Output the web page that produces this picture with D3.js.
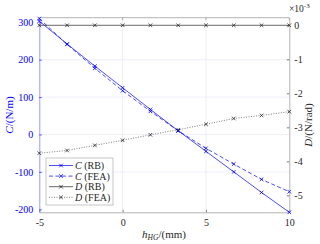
<!DOCTYPE html>
<html>
<head>
<meta charset="utf-8">
<script src="https://cdn.jsdelivr.net/npm/d3@7"></script>
<style>
  body { margin: 0; background: #fff; }
  svg text { font-family: "Liberation Serif", "DejaVu Serif", serif; }
</style>
</head>
<body>
<svg id="chart" width="320" height="244"></svg>
<script>
// data
var hValues = [-5, -3.333, -1.667, 0, 1.667, 3.333, 5, 6.667, 8.333, 10];
var cRB  = [303, 242, 183, 125, 67, 10, -45, -100, -155, -208];
var cFEA = [310, 241, 177, 117, 62, 10, -37, -79, -120, -153];
var dRB  = [0, 0, 0, 0, 0, 0, 0, 0, 0, 0];           // x 1e-3
var dFEA = [-3.76, -3.68, -3.53, -3.38, -3.22, -3.07, -2.91, -2.74, -2.65, -2.54];
var xTicks = [-5, 0, 5, 10];
var cTicks = [300, 200, 100, 0, -100, -200];
var dTicks = [0, -1, -2, -3, -4, -5];

var pLeft = 39.3, pRight = 289.3, pTop = 17.7, pBottom = 212.3;
var blue = "#0000ff", dark = "#262626";
var serif = "Liberation Serif, DejaVu Serif, serif";
var plain = d => String(d);   // hyphen minus like the original

var svg = d3.select("#chart");

var x = d3.scaleLinear().domain([-5, 10]).range([pLeft, pRight]);
var yC = d3.scaleLinear().domain([-208, 312.3]).range([pBottom, pTop]);
var yD = d3.scaleLinear().domain([-5.498, 0.223]).range([pBottom, pTop]);

// grid
svg.append("g").selectAll("line").data(xTicks.slice(1, 3)).enter().append("line")
  .attr("x1", d => x(d)).attr("x2", d => x(d))
  .attr("y1", pTop).attr("y2", pBottom)
  .attr("stroke", "#e4e4e4").attr("stroke-width", 0.6);
svg.append("g").selectAll("line").data(cTicks.slice(1, 5)).enter().append("line")
  .attr("x1", pLeft).attr("x2", pRight)
  .attr("y1", d => yC(d)).attr("y2", d => yC(d))
  .attr("stroke", "#e2e2fa").attr("stroke-width", 0.6);

// frame top
svg.append("line").attr("x1", pLeft).attr("x2", pRight).attr("y1", pTop).attr("y2", pTop)
  .attr("stroke", "#a0a0a0").attr("stroke-width", 0.8);

// x axis
var xAxis = svg.append("g")
  .attr("transform", "translate(0," + pBottom + ")")
  .call(d3.axisBottom(x).tickValues(xTicks).tickSizeInner(-2.5).tickSizeOuter(0).tickPadding(7)
    .tickFormat(plain));
xAxis.attr("font-family", serif);
xAxis.select(".domain").attr("stroke", "#a0a0a0").attr("stroke-width", 0.8);
xAxis.selectAll(".tick line").attr("stroke", "#808080");
xAxis.selectAll("text").attr("font-size", 10).attr("fill", dark);

// top ticks
svg.append("g").selectAll("line").data(xTicks).enter().append("line")
  .attr("x1", d => x(d)).attr("x2", d => x(d))
  .attr("y1", pTop).attr("y2", pTop + 2.5).attr("stroke", "#808080").attr("stroke-width", 0.6);

// left axis (C)
var cAxis = svg.append("g")
  .attr("transform", "translate(" + pLeft + ",0)")
  .call(d3.axisLeft(yC).tickValues(cTicks).tickSizeInner(-2.5).tickSizeOuter(0).tickPadding(6)
    .tickFormat(plain));
cAxis.attr("font-family", serif);
cAxis.select(".domain").attr("stroke", "#8080ff").attr("stroke-width", 0.8);
cAxis.selectAll(".tick line").attr("stroke", blue).attr("stroke-width", 0.6);
cAxis.selectAll("text").attr("font-size", 10).attr("fill", blue);

// right axis (D)
var dAxis = svg.append("g")
  .attr("transform", "translate(" + pRight + ",0)")
  .call(d3.axisRight(yD).tickValues(dTicks).tickSizeInner(-2.5).tickSizeOuter(0).tickPadding(5)
    .tickFormat(plain));
dAxis.attr("font-family", serif);
dAxis.select(".domain").attr("stroke", "#a0a0a0").attr("stroke-width", 0.8);
dAxis.selectAll(".tick line").attr("stroke", dark).attr("stroke-width", 0.6);
dAxis.selectAll("text").attr("font-size", 10).attr("fill", dark);

// exponent label
var ex = svg.append("text").attr("x", 289).attr("y", 12).attr("font-size", 9.5).attr("fill", dark);
ex.append("tspan").text("\u00d710");
ex.append("tspan").attr("dy", -4).attr("font-size", 7).text("-3");

// series
var series = [
  { name: "C", tag: "(RB)",  vals: cRB,  y: yC, color: blue, dash: null,  width: 0.7 },
  { name: "C", tag: "(FEA)", vals: cFEA, y: yC, color: blue, dash: "4,2.5", width: 0.7 },
  { name: "D", tag: "(RB)",  vals: dRB,  y: yD, color: dark, dash: null,  width: 0.7 },
  { name: "D", tag: "(FEA)", vals: dFEA, y: yD, color: dark, dash: "1,1.5", width: 0.6 }
];

function cross(g, cx, cy, color) {
  var s = 1.8;
  g.append("path")
    .attr("d", "M" + (cx - s) + "," + (cy - s) + "L" + (cx + s) + "," + (cy + s) +
               "M" + (cx - s) + "," + (cy + s) + "L" + (cx + s) + "," + (cy - s))
    .attr("stroke", color).attr("stroke-width", 0.8).attr("fill", "none");
}

series.forEach(function(s) {
  var line = d3.line().x((d, i) => x(hValues[i])).y(d => s.y(d));
  var g = svg.append("g");
  g.append("path").attr("d", line(s.vals))
    .attr("fill", "none").attr("stroke", s.color).attr("stroke-width", s.width)
    .attr("stroke-dasharray", s.dash);
  s.vals.forEach(function(v, i) { cross(g, x(hValues[i]), s.y(v), s.color); });
});

// legend
var lg = svg.append("g").attr("transform", "translate(46,158)");
lg.append("rect").attr("width", 67).attr("height", 47)
  .attr("fill", "#fff").attr("stroke", "#a0a0a0").attr("stroke-width", 0.6);
series.forEach(function(s, i) {
  var yy = 7.5 + i * 10.6;
  lg.append("line").attr("x1", 3).attr("x2", 27).attr("y1", yy).attr("y2", yy)
    .attr("stroke", s.color).attr("stroke-width", s.width).attr("stroke-dasharray", s.dash);
  cross(lg, 15, yy, s.color);
  var t = lg.append("text").attr("x", 29).attr("y", yy + 3.5).attr("font-size", 10).attr("fill", dark);
  t.append("tspan").attr("font-style", "italic").text(s.name);
  t.append("tspan").text(" " + s.tag);
});

// axis titles
var xl = svg.append("text").attr("x", 164).attr("y", 238).attr("text-anchor", "middle")
  .attr("font-size", 11).attr("fill", dark);
xl.append("tspan").attr("font-style", "italic").text("h");
xl.append("tspan").attr("font-style", "italic").attr("font-size", 7.5).attr("dy", 2).text("HG");
xl.append("tspan").attr("dy", -2).text("/(mm)");

var cl = svg.append("text").attr("transform", "translate(13,115) rotate(-90)")
  .attr("text-anchor", "middle").attr("font-size", 11).attr("fill", blue);
cl.append("tspan").attr("font-style", "italic").text("C");
cl.append("tspan").text("/(N/m)");

var dl = svg.append("text").attr("transform", "translate(312,125) rotate(-90)")
  .attr("text-anchor", "middle").attr("font-size", 11).attr("fill", dark);
dl.append("tspan").attr("font-style", "italic").text("D");
dl.append("tspan").text("/(N/rad)");
</script>
</body>
</html>
